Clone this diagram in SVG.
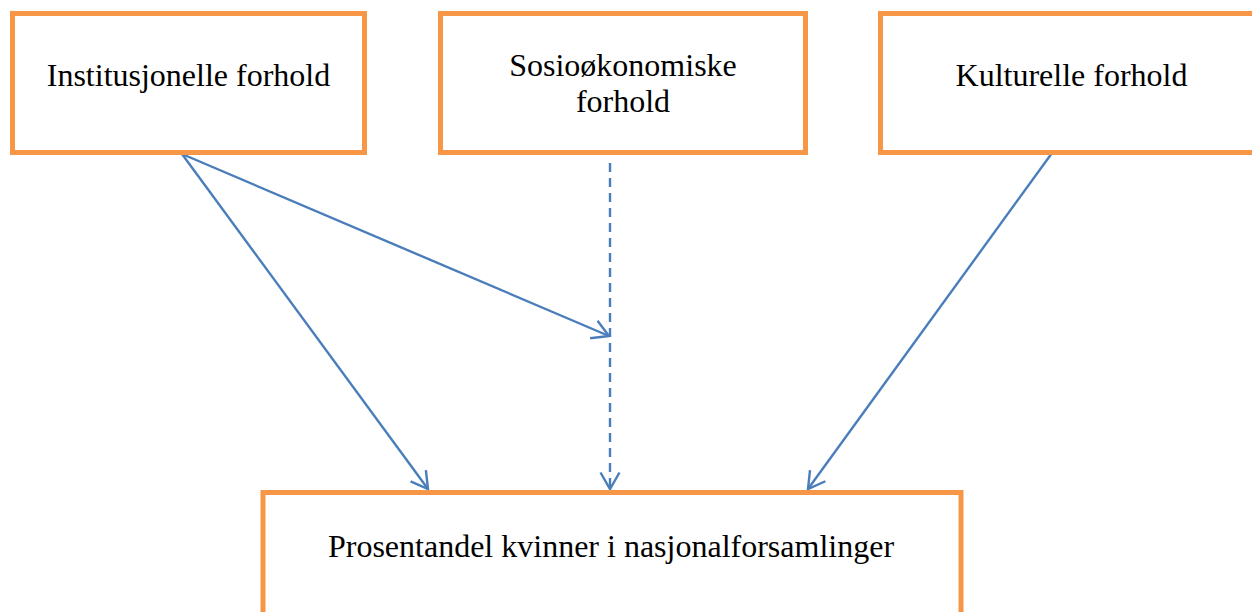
<svg xmlns="http://www.w3.org/2000/svg" width="1252" height="612" viewBox="0 0 1252 612">
<style>
.box{fill:#fff;stroke:#F79646;stroke-width:5}
.lbl{font-family:"Liberation Serif","Times New Roman",serif;font-size:32px;fill:#000;text-anchor:middle}
.con{stroke:#4A7EBB;stroke-width:2.4;fill:none}
.dash{stroke-dasharray:9,6}
</style>
<defs>
<marker id="open" markerUnits="userSpaceOnUse" markerWidth="22" markerHeight="24" viewBox="-19 -12 22 24" refX="0" refY="0" orient="auto" overflow="visible">
<path d="M-16.5,-9.5 L0,0 L-16.5,9.5" fill="none" stroke="#4A7EBB" stroke-width="2.4" stroke-linejoin="miter"/>
</marker>
</defs>
<rect width="1252" height="612" fill="#fff"/>
<g id="connectors">
<line class="con" x1="182" y1="154" x2="428" y2="489" marker-end="url(#open)"/>
<line class="con" x1="182" y1="154" x2="609" y2="336" marker-end="url(#open)"/>
<line class="con dash" x1="610" y1="163" x2="610" y2="489" marker-end="url(#open)"/>
<line class="con" x1="1052" y1="153" x2="808" y2="489" marker-end="url(#open)"/>
</g>
<g id="node-institusjonelle">
<rect class="box" x="12.5" y="13.5" width="352" height="139"/>
<text class="lbl" x="188.5" y="86">Institusjonelle forhold</text>
</g>
<g id="node-sosiookonomiske">
<rect class="box" x="440.5" y="13.5" width="365" height="139"/>
<text class="lbl" x="623" y="76">Sosioøkonomiske</text>
<text class="lbl" x="623" y="112">forhold</text>
</g>
<g id="node-kulturelle">
<rect class="box" x="880.5" y="13.5" width="382" height="139"/>
<text class="lbl" x="1071.5" y="86">Kulturelle forhold</text>
</g>
<g id="node-prosentandel">
<rect class="box" x="263" y="492.5" width="698" height="139"/>
<text class="lbl" x="611" y="557">Prosentandel kvinner i nasjonalforsamlinger</text>
</g>
</svg>
